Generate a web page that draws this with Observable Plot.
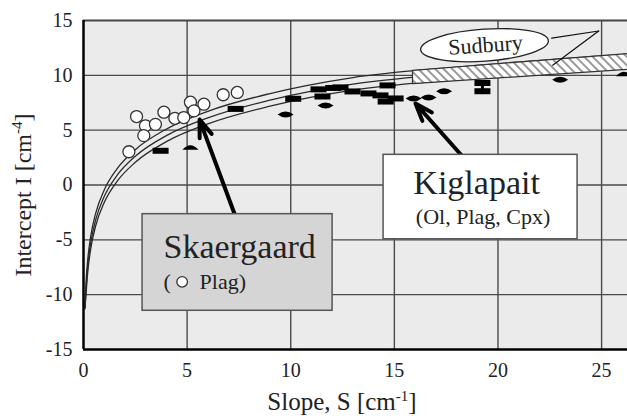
<!DOCTYPE html>
<html><head><meta charset="utf-8">
<script src="https://cdn.jsdelivr.net/npm/d3@7"></script>
<script src="https://cdn.jsdelivr.net/npm/@observablehq/plot@0.6"></script>
<style>body{margin:0;background:#fff;}</style>
</head><body><div id="chart"></div>
<script>
// ---- ticks ----
const xTicks = [0, 5, 10, 15, 20, 25];
const yTicks = [-15, -10, -5, 0, 5, 10, 15];

// ---- Skaergaard (open circles, Plag) ----
const skaerS = [2.19, 2.56, 2.99, 2.91, 3.47, 3.88, 4.41, 4.84, 5.16, 5.33, 5.81, 6.74, 7.42];
const skaerI = [3.03, 6.24, 5.40, 4.50, 5.53, 6.64, 6.08, 6.15, 7.55, 6.76, 7.37, 8.23, 8.44];

// ---- Kiglapait (black markers) ----
const kigBarS = [3.72, 7.34, 10.12, 11.34, 11.53, 12.05, 12.40, 12.98, 13.75, 14.33, 14.67, 14.58, 15.06, 19.25, 19.25];
const kigBarI = [3.12, 6.94, 7.86, 8.72, 8.07, 8.85, 8.90, 8.53, 8.35, 8.17, 9.08, 7.61, 7.89, 9.30, 8.55];
const kigLensS = [9.75, 11.68, 15.93, 16.65, 17.40, 23.00];
const kigLensI = [6.42, 7.25, 7.89, 7.98, 8.55, 9.60];
const kigDomeS = [5.16, 26.08];
const kigDomeI = [3.39, 10.10];
const kigStemS = [19.25];
const kigStemLo = [8.55];
const kigStemHi = [9.30];

// ---- constant-volume reference curves ----
const curveS   = [0.07, 0.12, 0.2, 0.35, 0.6, 1, 1.6, 2.5, 4, 6, 9, 13, 18, 26.3];
const curveTop = [-11.1, -8.93, -6.89, -4.65, -2.49, -0.45, 1.43, 3.22, 5.10, 6.72, 8.34, 9.80, 10.75, 11.95];
const curveMid = [-11.2, -9.50, -7.50, -5.25, -3.10, -1.05, 0.83, 2.62, 4.50, 6.12, 7.74, 9.20, 10.15, 11.30];
const curveBot = [-11.3, -10.05, -8.05, -5.80, -3.65, -1.60, 0.28, 2.07, 3.95, 5.57, 7.19, 8.65, 9.60, 10.75];

// ---- Sudbury band ----
const bandS = [15.9, 26.3];
const bandLow = [9.2, 10.5];
const bandHigh = [10.4, 11.95];

// ---- annotation layout (data units) ----
const boxes = [
  {x1: 2.85, x2: 12.02, y1: -11.47, y2: -2.66, fill: "#d5d5d5"},
  {x1: 14.48, x2: 23.84, y1: -4.95, y2: 2.75, fill: "#ffffff"}
];
const thickArrows = [
  {x1: 7.34, y1: -2.9, x2: 5.6, y2: 5.96},
  {x1: 18.29, y1: 2.6, x2: 16.02, y2: 7.43}
];
const thinArrows = [
  {x1: 24.86, y1: 14.04, x2: 22.59, y2: 13.39, bend: -25},
  {x1: 24.86, y1: 14.04, x2: 22.64, y2: 10.92, bend: 15}
];

// build tables
const skaer = skaerS.map((s, i) => ({s, v: skaerI[i]}));
const bars = kigBarS.map((s, i) => ({s, v: kigBarI[i]}));
const lenses = kigLensS.map((s, i) => ({s, v: kigLensI[i]}));
const domes = kigDomeS.map((s, i) => ({s, v: kigDomeI[i]}));
const stems = kigStemS.map((s, i) => ({s, lo: kigStemLo[i], hi: kigStemHi[i]}));
const curves = curveS.map((s, i) => ({s, top: curveTop[i], mid: curveMid[i], bot: curveBot[i]}));
const band = bandS.map((s, i) => ({s, lo: bandLow[i], hi: bandHigh[i]}));

// custom symbols
const barSym = {draw(c) { c.moveTo(-8, -3); c.lineTo(8, -3); c.lineTo(8, 3); c.lineTo(-8, 3); c.closePath(); }};
const lensSym = {draw(c) { c.moveTo(-8, 0); c.quadraticCurveTo(0, -6, 8, 0); c.quadraticCurveTo(0, 6, -8, 0); c.closePath(); }};
const domeSym = {draw(c) { c.moveTo(-8, 2); c.quadraticCurveTo(0, -7, 8, 2); c.closePath(); }};
const ellipseSym = {draw(c) {
  const rx = 64, ry = 16, k = 0.5523;
  c.moveTo(rx, 0);
  c.bezierCurveTo(rx, ry * k, rx * k, ry, 0, ry);
  c.bezierCurveTo(-rx * k, ry, -rx, ry * k, -rx, 0);
  c.bezierCurveTo(-rx, -ry * k, -rx * k, -ry, 0, -ry);
  c.bezierCurveTo(rx * k, -ry, rx, -ry * k, rx, 0);
  c.closePath();
}};

const serif = "'Liberation Serif', 'Times New Roman', serif";

const chart = Plot.plot({
  width: 627, height: 418,
  marginLeft: 83, marginRight: 0, marginTop: 20, marginBottom: 69,
  x: {domain: [0, 26.25], ticks: xTicks, tickSize: 0, tickPadding: 13, tickFormat: d => String(d), label: null},
  y: {domain: [-15, 15], ticks: yTicks, tickSize: 0, tickPadding: 11, tickFormat: d => String(d), label: null},
  style: {fontFamily: serif, fontSize: "20px", color: "#222", background: "#fff"},
  marks: [
    Plot.frame({fill: "#ebebeb", stroke: null}),
    Plot.ruleX(xTicks.filter(d => d > 0), {stroke: "#4a4a4a", strokeWidth: 1.4}),
    Plot.ruleY(yTicks.filter(d => d > -15 && d < 15), {stroke: "#4a4a4a", strokeWidth: 1.4}),
    Plot.line(curves, {x: "s", y: "top", curve: "monotone-x", stroke: "#2a2a2a", strokeWidth: 1.3}),
    Plot.line(curves, {x: "s", y: "mid", curve: "monotone-x", stroke: "#2a2a2a", strokeWidth: 1.3}),
    Plot.line(curves, {x: "s", y: "bot", curve: "monotone-x", stroke: "#2a2a2a", strokeWidth: 1.3}),
    Plot.areaY(band, {x: "s", y1: "lo", y2: "hi", fill: "url(#hatch)", stroke: "#333", strokeWidth: 1.2}),
    Plot.dot(skaer, {x: "s", y: "v", r: 6, fill: "#fff", stroke: "#333", strokeWidth: 1.3}),
    Plot.link(stems, {x1: "s", x2: "s", y1: "lo", y2: "hi", stroke: "#000", strokeWidth: 3}),
    Plot.dot(bars, {x: "s", y: "v", symbol: barSym, fill: "#000", stroke: null}),
    Plot.dot(lenses, {x: "s", y: "v", symbol: lensSym, fill: "#000", stroke: null}),
    Plot.dot(domes, {x: "s", y: "v", symbol: domeSym, fill: "#000", stroke: null}),
    Plot.arrow(thickArrows, {x1: "x1", y1: "y1", x2: "x2", y2: "y2", stroke: "#000", strokeWidth: 4, headLength: 7, headAngle: 40}),
    Plot.rect(boxes, {x1: "x1", x2: "x2", y1: "y1", y2: "y2", fill: "fill", stroke: "#555", strokeWidth: 1.5}),
    Plot.text(["Skaergaard"], {x: 3.86, y: -6.70, text: d => d, textAnchor: "start", lineAnchor: "bottom", fontSize: 34, fill: "#222"}),
    Plot.text(["("], {x: 3.86, y: -9.45, text: d => d, textAnchor: "start", lineAnchor: "bottom", fontSize: 22, fill: "#222"}),
    Plot.dot([0], {x: 4.76, y: -8.83, r: 5.3, fill: "#fff", stroke: "#333", strokeWidth: 1.3}),
    Plot.text(["Plag)"], {x: 5.60, y: -9.45, text: d => d, textAnchor: "start", lineAnchor: "bottom", fontSize: 22, fill: "#222"}),
    Plot.text(["Kiglapait"], {x: 18.97, y: -0.83, text: d => d, textAnchor: "middle", lineAnchor: "bottom", fontSize: 34, fill: "#222"}),
    Plot.text(["(Ol, Plag, Cpx)"], {x: 19.28, y: -3.55, text: d => d, textAnchor: "middle", lineAnchor: "bottom", fontSize: 22, fill: "#222"}),
    Plot.arrow(thinArrows, {x1: "x1", y1: "y1", x2: "x2", y2: "y2", bend: d => d.bend, stroke: "#111", strokeWidth: 1.2, headLength: 8, headAngle: 40}),
    Plot.dot([0], {x: 19.35, y: 12.75, symbol: ellipseSym, rotate: -4, fill: "#fff", stroke: "#222", strokeWidth: 1.3}),
    Plot.text(["Sudbury"], {x: 19.4, y: 12.75, text: d => d, rotate: -4, textAnchor: "middle", lineAnchor: "middle", fontSize: 22, fill: "#222"}),
    Plot.ruleY([15], {stroke: "#444", strokeWidth: 2}),
    Plot.ruleY([-15], {stroke: "#000", strokeWidth: 2.5}),
    Plot.ruleX([0], {stroke: "#000", strokeWidth: 2.5})
  ]
});

// hatch pattern
const svg = d3.select(chart);
const defs = svg.insert("defs", ":first-child");
const pat = defs.append("pattern").attr("id", "hatch").attr("patternUnits", "userSpaceOnUse")
  .attr("width", 6).attr("height", 6).attr("patternTransform", "rotate(-45)");
pat.append("rect").attr("width", 6).attr("height", 6).attr("fill", "#fff");
pat.append("rect").attr("width", 2).attr("height", 6).attr("fill", "#9a9a9a");

// axis labels with superscripts
const xl = svg.append("text").attr("x", 342).attr("y", 410).attr("text-anchor", "middle")
  .attr("font-family", serif).attr("font-size", 25).attr("fill", "#222");
xl.append("tspan").text("Slope, S [cm");
xl.append("tspan").attr("dy", -9).attr("font-size", 15).text("-1");
xl.append("tspan").attr("dy", 9).text("]");

const yl = svg.append("text").attr("transform", "translate(31,195) rotate(-90)").attr("text-anchor", "middle")
  .attr("font-family", serif).attr("font-size", 24).attr("fill", "#222");
yl.append("tspan").text("Intercept I [cm");
yl.append("tspan").attr("dy", -9).attr("font-size", 15).text("-4");
yl.append("tspan").attr("dy", 9).text("]");

document.getElementById("chart").appendChild(chart);
</script>
</body></html>
